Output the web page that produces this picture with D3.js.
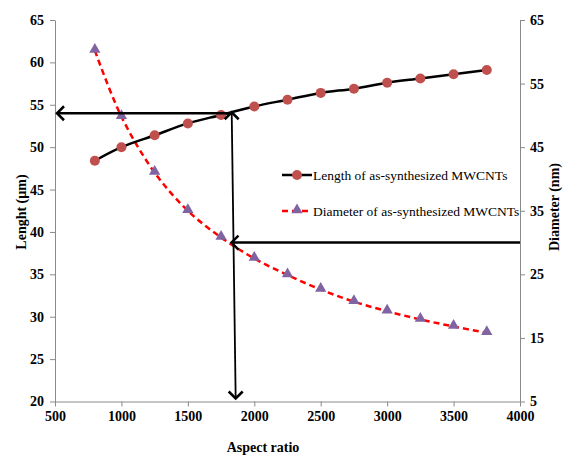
<!DOCTYPE html>
<html>
<head>
<meta charset="utf-8">
<script src="https://cdn.jsdelivr.net/npm/d3@7"></script>
<style>
  html, body { margin: 0; padding: 0; background: #fff; }
  svg { display: block; }
  text { font-family: "Liberation Serif", "Times New Roman", serif; }
</style>
</head>
<body>
<svg id="chart" width="564" height="457"></svg>
<script>
// ---- Data ----
const aspectRatio = [800, 1000, 1250, 1500, 1750, 2000, 2250, 2500, 2750, 3000, 3250, 3500, 3750];
const lengthValues = [48.4, 50.0, 51.4, 52.8, 53.8, 54.8, 55.6, 56.4, 56.9, 57.6, 58.1, 58.6, 59.1];
const diameterValues = [60.2, 49.8, 41.0, 35.0, 30.8, 27.5, 24.9, 22.6, 20.7, 19.2, 17.9, 16.8, 15.8];
const xTicks = [500, 1000, 1500, 2000, 2500, 3000, 3500, 4000];
const leftTicks = [20, 25, 30, 35, 40, 45, 50, 55, 60, 65];
const rightTicks = [5, 15, 25, 35, 45, 55, 65];
const seriesNames = ["Length of as-synthesized MWCNTs", "Diameter of as-synthesized MWCNTs"];
// annotation reading lines: length 54 µm, diameter 30 nm, aspect ratio ~1850
const annoLength = 54;
const annoDiameter = 30;
const annoAspect = [1830, 1860]; // top, bottom (line slightly slanted)

// ---- Layout ----
const svg = d3.select("#chart");
const mLeft = 55, mRight = 520, mTop = 20, mBottom = 401.5;

const x = d3.scaleLinear().domain([500, 4000]).range([mLeft, mRight]);
const yL = d3.scaleLinear().domain([20, 65]).range([mBottom, mTop]);
const yR = d3.scaleLinear().domain([5, 65]).range([mBottom, mTop]);

const axisColor = "#8a8a8a";

function styleAxis(g) {
  g.attr("font-family", null).attr("font-size", null);
  g.select(".domain").attr("stroke", axisColor).attr("stroke-width", 1);
  g.selectAll(".tick line").attr("stroke", axisColor);
  g.selectAll(".tick text")
    .attr("fill", "#000")
    .style("font-family", "'Liberation Serif', serif")
    .style("font-weight", "bold")
    .style("font-size", "14px");
}

svg.append("g")
  .attr("transform", `translate(0,${mBottom})`)
  .call(d3.axisBottom(x).tickValues(xTicks).tickFormat(d3.format("d")).tickSize(5).tickPadding(5).tickSizeOuter(0))
  .call(styleAxis);

svg.append("g")
  .attr("transform", `translate(${mLeft},0)`)
  .call(d3.axisLeft(yL).tickValues(leftTicks).tickFormat(d3.format("d")).tickSize(5).tickPadding(6).tickSizeOuter(0))
  .call(styleAxis);

svg.append("g")
  .attr("transform", `translate(${mRight},0)`)
  .call(d3.axisRight(yR).tickValues(rightTicks).tickFormat(d3.format("d")).tickSize(5).tickPadding(5).tickSizeOuter(0))
  .call(styleAxis);

// Axis titles
svg.append("text")
  .attr("x", 263).attr("y", 452)
  .attr("text-anchor", "middle")
  .style("font-weight", "bold").style("font-size", "14px")
  .text("Aspect ratio");

svg.append("text")
  .attr("transform", `translate(26,212) rotate(-90)`)
  .attr("text-anchor", "middle")
  .style("font-weight", "bold").style("font-size", "14px")
  .text("Lenght (µm)");

svg.append("text")
  .attr("transform", `translate(559,207) rotate(-90)`)
  .attr("text-anchor", "middle")
  .style("font-weight", "bold").style("font-size", "14px")
  .text("Diameter (nm)");

// ---- Series ----
const lenData = aspectRatio.map((a, i) => ({ a, v: lengthValues[i] }));
const diaData = aspectRatio.map((a, i) => ({ a, v: diameterValues[i] }));

const lineL = d3.line().x(d => x(d.a)).y(d => yL(d.v)).curve(d3.curveCatmullRom.alpha(0.5));
const lineR = d3.line().x(d => x(d.a)).y(d => yR(d.v)).curve(d3.curveCatmullRom.alpha(0.5));

svg.append("path").datum(diaData)
  .attr("d", lineR).attr("fill", "none")
  .attr("stroke", "#ff0000").attr("stroke-width", 2.5)
  .attr("stroke-dasharray", "6,4");

svg.append("path").datum(lenData)
  .attr("d", lineL).attr("fill", "none")
  .attr("stroke", "#000").attr("stroke-width", 2.5);

const tri = d3.symbol().type(d3.symbolTriangle).size(55);

svg.append("g").selectAll("path").data(diaData).join("path")
  .attr("d", tri)
  .attr("transform", d => `translate(${x(d.a)},${yR(d.v) - 1})`)
  .attr("fill", "#8064a2");

svg.append("g").selectAll("circle").data(lenData).join("circle")
  .attr("cx", d => x(d.a)).attr("cy", d => yL(d.v)).attr("r", 5)
  .attr("fill", "#c0504d");

// ---- Annotation arrows ----
function chevron(tipX, tipY, dir) {
  const s = 7;
  let pts;
  if (dir === "left") pts = [[tipX + s, tipY - s], [tipX, tipY], [tipX + s, tipY + s]];
  else if (dir === "up") pts = [[tipX - s, tipY + s], [tipX, tipY], [tipX + s, tipY + s]];
  else pts = [[tipX - s, tipY - s], [tipX, tipY], [tipX + s, tipY - s]];
  svg.append("polyline")
    .attr("points", pts.map(p => p.join(",")).join(" "))
    .attr("fill", "none").attr("stroke", "#000").attr("stroke-width", 2.5)
    .attr("stroke-linejoin", "miter");
}

const yTopA = yL(annoLength);
const yMidA = yR(annoDiameter);
const xTopV = x(annoAspect[0]), xBotV = x(annoAspect[1]);

svg.append("line")
  .attr("x1", xTopV).attr("y1", yTopA).attr("x2", mLeft + 2).attr("y2", yTopA)
  .attr("stroke", "#000").attr("stroke-width", 2.5);
chevron(mLeft + 2, yTopA, "left");

svg.append("line")
  .attr("x1", xTopV).attr("y1", yTopA - 1).attr("x2", xBotV).attr("y2", mBottom - 3)
  .attr("stroke", "#000").attr("stroke-width", 1.8);
chevron(xTopV, yTopA - 1, "up");
chevron(xBotV, mBottom - 3, "down");

const frac = (yMidA - yTopA) / (mBottom - yTopA);
const xMidV = xTopV + (xBotV - xTopV) * frac;
svg.append("line")
  .attr("x1", mRight).attr("y1", yMidA).attr("x2", xMidV - 2).attr("y2", yMidA)
  .attr("stroke", "#000").attr("stroke-width", 2.5);
chevron(xMidV - 2, yMidA, "left");

// ---- Legend ----
const lg = svg.append("g");
const lgX1 = 282, lgX2 = 312, lgTextX = 313;
const rows = [175, 211];

lg.append("line").attr("x1", lgX1).attr("x2", lgX2).attr("y1", rows[0]).attr("y2", rows[0])
  .attr("stroke", "#000").attr("stroke-width", 2.5);
lg.append("circle").attr("cx", (lgX1 + lgX2) / 2).attr("cy", rows[0]).attr("r", 5).attr("fill", "#c0504d");
lg.append("text").attr("x", lgTextX).attr("y", rows[0] + 5)
  .style("font-size", "13.5px").text(seriesNames[0]);

lg.append("line").attr("x1", lgX1).attr("x2", lgX2).attr("y1", rows[1]).attr("y2", rows[1])
  .attr("stroke", "#ff0000").attr("stroke-width", 2.5).attr("stroke-dasharray", "6,4");
lg.append("path").attr("d", tri).attr("transform", `translate(${(lgX1 + lgX2) / 2},${rows[1] - 1})`).attr("fill", "#8064a2");
lg.append("text").attr("x", lgTextX).attr("y", rows[1] + 5)
  .style("font-size", "13.5px").text(seriesNames[1]);
</script>
</body>
</html>
